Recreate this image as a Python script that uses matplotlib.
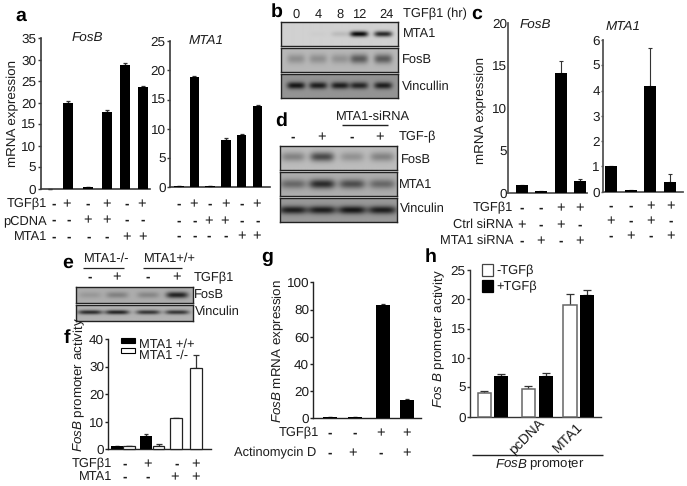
import numpy as np
import matplotlib
matplotlib.use('Agg')
import matplotlib.pyplot as plt
from matplotlib.patches import Rectangle

plt.rcParams['font.family'] = ['Liberation Sans', 'DejaVu Sans']
plt.rcParams['mathtext.fontset'] = 'custom'
plt.rcParams['mathtext.it'] = 'Liberation Sans:italic'
plt.rcParams['mathtext.rm'] = 'Liberation Sans'
plt.rcParams['text.hinting'] = 'none'

# ---- data ----
a_fosb = [0.0, 20.0, 0.3, 17.9, 28.9, 23.8]
a_fosb_err = [0, 0.5, 0.1, 0.5, 0.3, 0.2]
a_mta1 = [0.2, 18.8, 0.2, 8.0, 9.0, 13.9]
a_mta1_err = [0.05, 0.3, 0.05, 0.5, 0.05, 0.1]
c_fosb = [1.0, 0.25, 14.2, 1.4]
c_fosb_err = [0, 0, 1.4, 0.25]
c_mta1 = [1.0, 0.05, 4.2, 0.4]
c_mta1_err = [0, 0.03, 1.5, 0.3]
f_black = [1.2, 4.8]
f_black_err = [0, 0.8]
f_white = [1.2, 1.2, 11.2, 29.5]
f_white_err = [0, 0.7, 0.3, 4.6]
g_vals = [0.8, 0.8, 83, 13.5]
g_err = [0.1, 0.1, 1.0, 0.5]
h_white = [4.0, 4.7, 19.0]
h_white_err = [0.35, 0.45, 1.9]
h_black = [6.9, 7.0, 20.7]
h_black_err = [0.3, 0.5, 0.9]

b_mta1 = [0.0, 0.02, 0.1, 0.95, 0.8]
b_fosb = [0.22, 0.22, 0.2, 0.5, 0.5]
b_vinc = [0.85, 0.8, 0.8, 0.75, 0.8]
d_fosb = [0.3, 0.6, 0.22, 0.3]
d_mta1 = [0.4, 0.75, 0.55, 0.4]
d_vinc = [0.8, 0.8, 0.85, 0.8]
e_fosb = [0.12, 0.25, 0.22, 0.8]
e_vinc = [0.75, 0.8, 0.7, 0.7]

a_rows = ['-+-+-+', '--++--', '----++']
c_rows = ['--++', '+-+-', '-+-+']
f_rows = ['-+-+', '--++']
g_rows = ['--++', '-+-+']
b_hours = ['0', '4', '8', '12', '24']

W, H = 687, 486
fig = plt.figure(figsize=(W/100, H/100), dpi=100)
INK = '#1c1c1c'
FS = 9.3
TFS = 9.7

bg = fig.add_axes([0, 0, 1, 1])
bg.set_xlim(0, W); bg.set_ylim(H, 0); bg.axis('off'); bg.set_zorder(5)
bg.patch.set_alpha(0)

def T(x, y, s, ha='left', fs=FS, **kw):
    kw.setdefault('color', INK)
    bg.text(x, y, s, ha=ha, va='center', fontsize=fs, **kw)

def L(x0, x1, y, lw=1.0, c='#222222'):
    bg.plot([x0, x1], [y, y], color=c, lw=lw, solid_capstyle='butt')

def panel(x0, x1, ytop, y0, ymax, ticks, color='#3a3a3a', lw=1.2, fs=TFS, tl=2.5):
    ax = fig.add_axes([x0/W, 1-y0/H, (x1-x0)/W, (y0-ytop)/H])
    ax.set_xlim(x0, x1); ax.set_ylim(0, ymax)
    ax.patch.set_alpha(0)
    for s in ('top', 'right'):
        ax.spines[s].set_visible(False)
    for s in ('left', 'bottom'):
        ax.spines[s].set_color(color); ax.spines[s].set_linewidth(lw)
    ax.set_xticks([])
    ax.set_yticks(ticks)
    ax.tick_params(axis='y', length=tl, width=1.0, color=color, labelsize=fs,
                   labelcolor=INK, pad=0.5)
    return ax

def bars(ax, xs, v, e, w, fc='black', ec='black', lw=0, elw=0.9, cap=1.6):
    ax.bar(xs, v, width=w, color=fc, edgecolor=ec, linewidth=lw, zorder=3, clip_on=False)
    ax.errorbar(xs, v, yerr=[np.zeros(len(v)), e], fmt='none', ecolor='#333333',
                elinewidth=elw, capsize=cap, capthick=elw, zorder=2, clip_on=False)

def signs(xs, y, row):
    for x, s in zip(xs, row):
        T(x, y, s, ha='center', fs=10.5 if s == '+' else 9.5,
          fontweight='bold' if s == '-' else 'normal')

def blot(x0, x1, y0, y1, lanes, vals, base=0.70, sig=0.16, bw=9, dy=0.0):
    nx, ny = int(x1-x0)*3, int(y1-y0)*3
    X, Y = np.meshgrid(np.linspace(x0, x1, nx), np.linspace(-1, 1, ny))
    img = np.full((ny, nx), base, float)
    for lx, v in zip(lanes, vals):
        band = np.exp(-((X-lx)/bw)**4) * np.exp(-((Y-dy)/(sig*2))**2)
        img -= v * base * band
    ax = fig.add_axes([x0/W, 1-y1/H, (x1-x0)/W, (y1-y0)/H])
    ax.imshow(img, cmap='gray', vmin=0, vmax=1, aspect='auto', interpolation='bilinear')
    ax.set_xticks([]); ax.set_yticks([])
    for s in ax.spines.values():
        s.set_linewidth(1.0); s.set_color('#222222')

# ---- panel a ----
ax = panel(40.5, 150, 38.5, 188.7, 35, range(0, 36, 5))
bars(ax, [49.5, 68, 87.5, 106.5, 125, 142.5], a_fosb, a_fosb_err, 10)
ax = panel(170, 270, 41, 187.3, 25, range(0, 26, 5))
bars(ax, [179, 194.3, 210, 226, 241.7, 257.7], a_mta1, a_mta1_err, 9.3)
T(87, 39, 'FosB', ha='center', style='italic', fs=9.7)
T(206, 41, 'MTA1', ha='center', style='italic', fs=9.7)
T(13, 113, 'mRNA expression', ha='center', rotation=90, fs=9.6)
for y, lab in zip([204, 220.7, 237], ['TGFβ1', 'pCDNA', 'MTA1']):
    T(47, y, lab, ha='right')
signs([54, 67, 88, 107, 127, 142], 204, a_rows[0])
signs([54, 69, 88, 107, 127, 143], 220.7, a_rows[1])
signs([54, 69, 89, 107, 127, 143], 237, a_rows[2])
signs([179, 194, 210, 226, 242, 257], 204, a_rows[0])
signs([179, 195, 209, 225, 242, 258], 221.5, a_rows[1])
signs([179, 195, 209, 226, 242, 257], 236.5, a_rows[2])

# ---- panel b ----
lanes_b = [296, 318, 340, 359, 383]
blot(281, 397.7, 22, 46, lanes_b, b_mta1, base=0.82, sig=0.12, dy=0.0)
blot(281, 397.7, 48.3, 72, lanes_b, b_fosb, base=0.72, sig=0.2, dy=-0.1)
blot(281, 397.7, 74, 98.3, lanes_b, b_vinc, base=0.58, sig=0.14, dy=0.0)
for x, s in zip([296, 318, 340, 359, 386], b_hours):
    T(x, 14.3, s, ha='center')
T(402.7, 14.3, 'TGFβ1 (hr)')
T(402.7, 34, 'MTA1')
T(402, 60.7, 'FosB')
T(402, 87, 'Vincullin')

# ---- panel d ----
lanes_d = [293, 322, 352, 382]
blot(280, 396.7, 146, 170, lanes_d, d_fosb, base=0.74, sig=0.2, bw=12, dy=-0.1)
blot(280, 396.7, 172, 196, lanes_d, d_mta1, base=0.68, sig=0.2, bw=13, dy=0.0)
blot(280, 396.7, 198, 222, lanes_d, d_vinc, base=0.6, sig=0.17, bw=14, dy=0.0)
T(373, 117, 'MTA1-siRNA', ha='center')
L(342, 388, 125, lw=1.0)
signs([293, 322, 352, 380], 137, '-+-+')
T(399, 137, 'TGF-β')
T(400.7, 160.7, 'FosB')
T(398.7, 185, 'MTA1')
T(400, 209, 'Vinculin')

# ---- panel c ----
ax = panel(507.7, 587, 23.3, 193.3, 20, [0, 5, 10, 15, 20], color='#555555', lw=1.3, tl=0)
bars(ax, [521.7, 540.7, 560.7, 580], c_fosb, c_fosb_err, 11.7, elw=0.8)
ax = panel(602.7, 683, 40, 191.7, 6, range(0, 7), color='#555555', lw=1.3, tl=1.5)
bars(ax, [611.3, 630.7, 650.3, 670], c_mta1, c_mta1_err, 11.7, elw=0.8)
T(535, 26, 'FosB', ha='center', style='italic', fs=9.7)
T(622.7, 27, 'MTA1', ha='center', style='italic', fs=9.7)
T(480.7, 110, 'mRNA expression', ha='center', rotation=90, fs=9.6)
for y, lab in zip([208, 225, 241], ['TGFβ1', 'Ctrl siRNA', 'MTA1 siRNA']):
    T(513, y, lab, ha='right')
for y, r in zip([208, 225, 241], c_rows):
    signs([522, 541, 561, 580], y, r)
for y, r in zip([206, 221, 236], c_rows):
    signs([611, 631, 651, 671], y, r)

# ---- panel e ----
lanes_e = [90, 117, 148, 177]
blot(76, 192.7, 287.3, 302.7, lanes_e, e_fosb, base=0.68, sig=0.2, bw=11, dy=0.0)
blot(76, 192.7, 305, 320.7, lanes_e, e_vinc, base=0.70, sig=0.14, bw=12, dy=-0.1)
T(106.7, 259, 'MTA1-/-', ha='center')
L(83, 124, 268, lw=0.9)
T(170, 259, 'MTA1+/+', ha='center')
L(143, 182, 268, lw=0.9)
signs([90, 117, 148, 177], 277.7, '-+-+')
T(194, 278, 'TGFβ1')
T(194, 295.7, 'FosB')
T(195, 311.7, 'Vinculin')

# ---- panel f ----
ax = panel(108.3, 210.7, 339, 449.3, 40, range(0, 41, 10), color='#222222', lw=1.0)
bars(ax, [116.7, 146], f_black, f_black_err, 12)
bars(ax, [129, 158.7, 176, 196], f_white, f_white_err, 11.5, fc='white', ec='#222222', lw=0.9, cap=2.5)
T(80, 384, r'$\it{FosB}$ promoter activity', ha='center', rotation=90, fs=9.6)
bg.add_patch(Rectangle((121, 337.7), 14, 5, fc='black', ec='black', lw=0.8))
bg.add_patch(Rectangle((121, 348), 14, 5, fc='white', ec='black', lw=0.8))
T(139.3, 345, 'MTA1 +/+')
T(139.3, 355.7, 'MTA1 -/-')
T(112, 464, 'TGFβ1', ha='right')
T(112, 477, 'MTA1', ha='right')
signs([125, 148, 177, 196], 464, f_rows[0])
signs([125, 148, 175, 196], 477, f_rows[1])

# ---- panel g ----
ax = panel(313.3, 421, 282.3, 418.3, 100, range(0, 101, 20), color='#222222', lw=1.0)
bars(ax, [330, 355, 383, 407.3], g_vals, g_err, 14.3)
T(279, 351, r'$\it{FosB}$ mRNA expression', ha='center', rotation=90, fs=9.6)
T(319, 433, 'TGFβ1', ha='right')
T(316.7, 453, 'Actinomycin D', ha='right')
signs([330, 355, 381, 407], 433, g_rows[0])
signs([330, 353, 381, 407], 453, g_rows[1])

# ---- panel h ----
ax = panel(470, 600.7, 270, 416.7, 25, range(0, 26, 5), color='#333333', lw=1.0)
bars(ax, [484.3, 528.3, 570], h_white, h_white_err, 13.5, fc='white', ec='#666666', lw=1.1, cap=3.2)
bars(ax, [500.7, 545.7, 587], h_black, h_black_err, 14.3, cap=3.2)
T(440, 339, r'$\it{Fos\ B}$ promoter activity', ha='center', rotation=90, fs=9.6)
bg.add_patch(Rectangle((482.3, 264.3), 10.4, 11.7, fc='white', ec='#444444', lw=0.9))
bg.add_patch(Rectangle((482.3, 280), 10.4, 11.7, fc='black', ec='black', lw=0.9))
T(496.7, 271, '-TGFβ')
T(496.7, 286.7, '+TGFβ')
T(526.7, 436.7, 'pcDNA', ha='center', rotation=45, fs=10)
T(568, 437.7, 'MTA1', ha='center', rotation=45, fs=10)
L(471.7, 603.3, 455, lw=1.0)
T(540, 465.5, r'$\it{FosB}$ promoter', ha='center', fs=9.5)

# ---- panel letters ----
for x, y, s in [(21, 15.7, 'a'), (277, 12, 'b'), (477, 14, 'c'), (281, 120.7, 'd'),
                (68, 263, 'e'), (67, 338, 'f'), (267, 257, 'g'), (431, 257, 'h')]:
    T(x, y, s, ha='center', fs=14, fontweight='bold', color='black')

fig.savefig('out.png', dpi=100)
